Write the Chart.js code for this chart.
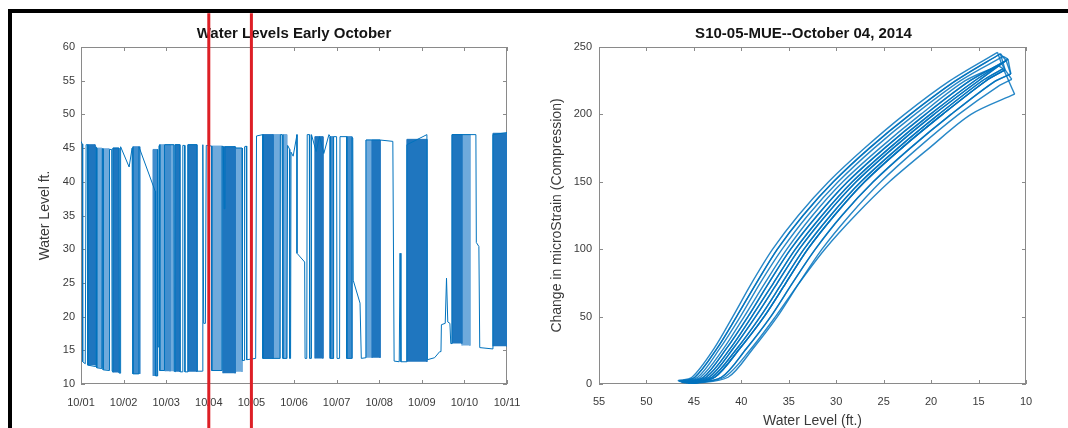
<!DOCTYPE html>
<html>
<head>
<meta charset="utf-8">
<title>Water Levels Early October</title>
<script src="https://cdn.jsdelivr.net/npm/chart.js@4.4.1/dist/chart.umd.min.js"></script>
<style>
  html, body { margin: 0; padding: 0; background: #fff; overflow: hidden; }
  #page { position: relative; width: 1068px; height: 428px; overflow: hidden; }
  canvas { position: absolute; top: 0; }
  #levelChart { left: 0; }
  #strainChart { left: 540px; }
  .frame { position: absolute; background: #000; }
</style>
</head>
<body>
<div id="page">
  <canvas id="levelChart" width="540" height="440"></canvas>
  <canvas id="strainChart" width="528" height="440"></canvas>
  <div class="frame" style="left:8px;top:9px;width:1060px;height:4px"></div>
  <div class="frame" style="left:8px;top:9px;width:4px;height:419px"></div>
</div>
<script>
// ---- water level record, x = days after 10/01 00:00 ----
const dayLabels = ['10/01', '10/02', '10/03', '10/04', '10/05', '10/06',
                   '10/07', '10/08', '10/09', '10/10', '10/11'];

// single trace: [day, level ft]
const levelTrace = [
  [0.00, 46.0], [0.03, 45.6], [0.04, 13.3], [0.10, 13.0], [0.12, 45.5], [0.16, 45.5],
  [0.16, 12.8], [0.33, 12.6], [0.35, 45.2], [0.37, 45.0], [0.37, 12.4], [0.49, 12.3],
  [0.50, 44.9], [0.52, 44.9], [0.52, 12.1], [0.66, 12.0], [0.67, 44.8], [0.72, 44.8],
  [0.73, 11.9], [0.75, 11.8], [0.75, 45.0], [0.89, 45.0], [0.90, 11.6], [0.92, 11.6],
  [0.93, 45.2], [1.13, 42.2], [1.20, 45.0], [1.22, 45.2], [1.22, 11.5], [1.36, 11.5],
  [1.36, 45.2], [1.69, 39.5], [1.74, 38.6], [1.75, 11.2], [1.79, 11.2], [1.80, 44.8],
  [1.81, 15.5], [1.83, 45.3], [1.85, 45.5], [1.85, 12.0], [1.95, 12.0], [1.96, 45.5],
  [2.18, 45.5], [2.19, 11.9], [2.21, 11.8], [2.21, 45.5], [2.32, 45.5], [2.33, 11.8],
  [2.38, 11.8], [2.39, 45.4], [2.43, 45.4], [2.44, 11.8], [2.51, 11.8], [2.51, 45.5],
  [2.72, 45.5], [2.73, 11.9], [2.85, 11.9], [2.86, 45.5], [2.88, 19.0], [2.92, 19.0],
  [2.94, 45.4], [3.07, 45.3], [3.07, 12.0], [3.31, 12.0], [3.31, 45.3], [3.34, 45.2],
  [3.36, 36.0], [3.38, 45.2], [3.62, 45.2], [3.64, 45.0], [3.78, 45.0], [3.79, 13.5],
  [3.83, 13.5], [3.84, 45.2], [3.88, 45.3], [3.89, 13.6], [4.10, 13.8], [4.12, 46.8],
  [4.27, 47.0], [4.27, 13.8], [4.67, 13.8], [4.68, 47.0], [4.72, 47.0], [4.74, 13.8],
  [4.83, 13.8], [4.85, 45.4], [4.90, 44.8], [4.90, 13.8], [4.92, 13.8], [4.93, 44.4],
  [4.98, 43.8], [5.07, 47.0], [5.07, 29.4], [5.25, 28.1], [5.26, 13.8], [5.30, 13.8],
  [5.31, 47.0], [5.36, 47.0], [5.37, 13.8], [5.40, 13.8], [5.41, 47.0], [5.52, 44.5],
  [5.60, 46.7], [5.70, 44.2], [5.82, 47.0], [5.85, 46.7], [5.85, 13.8], [5.92, 13.8],
  [5.93, 46.7], [6.00, 46.7], [6.01, 13.8], [6.07, 13.8], [6.08, 46.7], [6.24, 46.7],
  [6.24, 13.8], [6.36, 13.8], [6.36, 46.6], [6.38, 46.5], [6.39, 25.4], [6.55, 22.0],
  [6.58, 13.8], [6.69, 13.9], [6.69, 46.2], [7.02, 46.2], [7.32, 46.0], [7.35, 13.4],
  [7.47, 13.3], [7.49, 29.4], [7.51, 13.3], [7.65, 13.3], [7.65, 45.5], [8.12, 47.0],
  [8.13, 13.6], [8.30, 13.9], [8.42, 14.8], [8.45, 14.8], [8.46, 18.8], [8.55, 19.0],
  [8.58, 25.7], [8.61, 19.2], [8.66, 19.0], [8.68, 16.0], [8.71, 16.0], [8.71, 47.0],
  [9.27, 47.0], [9.28, 31.0], [9.34, 30.4], [9.36, 15.4], [9.67, 15.2], [9.67, 47.0],
  [10.0, 47.3]
];

// pump cycling bursts: [start day, end day, top ft, bottom ft]
const denseBursts = [
  [0.16, 0.33, 45.5, 12.8], [0.75, 0.89, 45.0, 11.7], [2.21, 2.32, 45.5, 11.8],
  [2.51, 2.72, 45.5, 11.8], [3.33, 3.62, 45.2, 11.6], [4.27, 4.51, 47.0, 13.8],
  [5.49, 5.68, 46.7, 13.8], [6.83, 7.02, 46.2, 13.9], [7.65, 8.12, 46.3, 13.3],
  [8.71, 8.94, 47.0, 16.0], [9.67, 10.0, 47.2, 15.6]
];
const mediumBursts = [
  [1.22, 1.38, 45.2, 11.5], [1.69, 1.79, 44.8, 11.2], [1.97, 2.09, 45.5, 11.9],
  [5.85, 5.92, 46.7, 13.8], [6.24, 6.36, 46.7, 13.8]
];
const sparseBursts = [
  [0.37, 0.49, 45.0, 12.4], [0.52, 0.66, 44.9, 12.1], [1.85, 1.95, 45.5, 12.0],
  [2.10, 2.18, 45.5, 11.9], [3.07, 3.31, 45.3, 12.0], [3.64, 3.78, 45.0, 11.8],
  [4.51, 4.67, 47.0, 13.8], [4.74, 4.83, 47.0, 13.8], [6.69, 6.83, 46.2, 13.9],
  [8.94, 9.13, 47.0, 15.7]
];

// red markers bracketing 10/04
const markerDays = [3, 4];
const markerSpan = [65, 1];

// ---- strain vs water level, S10-05-MUE 10/04/2014: [level ft, microstrain] ----
const curveA  = [[46.7, 2.5], [45.2, 5], [42.9, 26], [40.9, 50], [38.9, 75], [36.7, 100], [34.0, 125], [30.8, 150], [27.0, 175], [22.8, 200], [18.0, 225], [13.0, 246]];
const curveA2 = [[46.6, 2.0], [44.9, 5], [42.6, 26], [40.5, 50], [38.4, 75], [36.2, 100], [33.5, 125], [30.3, 150], [26.5, 175], [22.2, 200], [17.4, 225], [12.7, 245]];
const curveB  = [[46.5, 1.8], [44.6, 5], [42.3, 26], [40.1, 50], [38.0, 75], [35.7, 100], [33.0, 125], [29.8, 150], [26.0, 175], [21.7, 200], [16.9, 225], [12.4, 243]];
const curveB2 = [[46.4, 1.5], [44.3, 5], [41.9, 26], [39.7, 50], [37.5, 75], [35.2, 100], [32.5, 125], [29.3, 150], [25.4, 175], [21.1, 200], [16.4, 225], [12.9, 236]];
const curveC  = [[46.3, 1.2], [44.0, 5], [41.6, 26], [39.3, 50], [37.1, 75], [34.8, 100], [32.0, 125], [28.8, 150], [24.9, 175], [20.6, 200], [15.9, 225], [12.6, 238]];
const curveC2 = [[46.2, 1.0], [43.7, 5], [41.2, 26], [38.9, 50], [36.6, 75], [34.3, 100], [31.5, 125], [28.3, 150], [24.4, 175], [20.1, 200], [15.4, 225], [12.1, 240]];
const curveD  = [[46.0, 0.8], [43.4, 5], [40.9, 26], [38.5, 50], [36.2, 75], [33.9, 100], [31.1, 125], [27.9, 150], [24.0, 175], [19.7, 200], [15.0, 225], [11.9, 241]];
const curveD2 = [[45.8, 0.6], [43.1, 5], [40.5, 26], [38.0, 50], [35.7, 75], [33.4, 100], [30.6, 125], [27.4, 150], [23.5, 175], [19.2, 200], [14.6, 225], [12.4, 234]];
const curveE  = [[45.6, 0.5], [42.8, 5], [40.2, 26], [37.6, 50], [35.3, 75], [33.0, 100], [30.2, 125], [27.0, 150], [23.1, 175], [18.8, 200], [14.2, 225], [12.2, 233]];
const curveF  = [[45.3, 0.4], [42.1, 5], [39.5, 26], [36.9, 50], [34.6, 75], [32.2, 100], [29.4, 125], [26.1, 150], [22.2, 175], [17.9, 200], [13.4, 224], [11.6, 230]];
const curveG  = [[45.0, 0.3], [41.4, 5], [38.8, 26], [36.2, 50], [33.9, 75], [31.5, 100], [28.6, 125], [25.3, 150], [21.4, 175], [17.1, 200], [12.9, 221], [11.5, 226]];
const curveH  = [[45.2, 0.4], [41.8, 5], [39.0, 26], [36.4, 50], [33.9, 75], [31.2, 100], [28.0, 125], [24.4, 150], [20.2, 175], [15.8, 200], [11.2, 215]];

// each drawdown/refill cycle: [falling-water path, rising-water path]
const cycles = [
  [curveA, curveC], [curveA2, curveC2], [curveB, curveD], [curveB2, curveD2],
  [curveC, curveE], [curveD, curveF], [curveE, curveG], [curveD2, curveH],
  [curveA2, curveE], [curveC2, curveF]
];

Chart.defaults.font.family = '"Liberation Sans", Arial, sans-serif';
Chart.defaults.color = '#3a3a3a';

const LINE_BLUE = '#0072BD';
const AXIS_GREY = '#8a8a8a';

// MATLAB-ish box: grey frame, inward ticks on all sides, bold title above
const matlabAxes = {
  id: 'matlabAxes',
  beforeDatasetsDraw(chart, args, opts) {
    const { ctx, chartArea: a, scales: { x, y } } = chart;
    ctx.save();
    ctx.strokeStyle = AXIS_GREY;
    ctx.lineWidth = 1;
    ctx.strokeRect(a.left + 0.5, a.top + 0.5, a.right - a.left - 1, a.bottom - a.top - 1);
    ctx.beginPath();
    x.ticks.forEach(t => {
      const px = Math.round(x.getPixelForValue(t.value)) + 0.5;
      ctx.moveTo(px, a.bottom); ctx.lineTo(px, a.bottom - 4);
      ctx.moveTo(px, a.top); ctx.lineTo(px, a.top + 4);
    });
    y.ticks.forEach(t => {
      const py = Math.round(y.getPixelForValue(t.value)) + 0.5;
      ctx.moveTo(a.left, py); ctx.lineTo(a.left + 4, py);
      ctx.moveTo(a.right, py); ctx.lineTo(a.right - 4, py);
    });
    ctx.stroke();
    ctx.font = 'bold 15px "Liberation Sans", Arial, sans-serif';
    ctx.fillStyle = '#141414';
    ctx.textAlign = 'center';
    ctx.textBaseline = 'middle';
    ctx.fillText(opts.title, (a.left + a.right) / 2 + (opts.shift || 0), a.top - 13);
    ctx.restore();
  }
};

const tickFont = { size: 11 };
const titleFont = { size: 14 };
const noGrid = { display: false, drawTicks: false };

function toPoints(pairs) {
  return pairs.map(p => ({ x: p[0], y: p[1] }));
}

function burstDatasets(list, color) {
  return list.map(b => ({
    data: [{ x: b[0], y: b[3] }, { x: b[0], y: b[2] }, { x: b[1], y: b[2] }, { x: b[1], y: b[3] }],
    borderColor: color,
    backgroundColor: color,
    borderWidth: 1,
    fill: 'shape',
    pointRadius: 0,
    order: 2
  }));
}

// === left: water level time series ===
const levelDatasets = [
  ...markerDays.map(d => ({
    data: markerSpan.map(v => ({ x: d, y: v })),
    borderColor: '#dd1f26',
    borderWidth: 3,
    pointRadius: 0,
    clip: false,
    order: 0
  })),
  {
    data: toPoints(levelTrace),
    borderColor: LINE_BLUE,
    borderWidth: 1,
    pointRadius: 0,
    order: 1
  },
  ...burstDatasets(denseBursts, '#1f76bf'),
  ...burstDatasets(mediumBursts, '#408dcd'),
  ...burstDatasets(sparseBursts, '#6faadc')
];

new Chart(document.getElementById('levelChart'), {
  type: 'line',
  data: { datasets: levelDatasets },
  options: {
    responsive: false,
    animation: false,
    devicePixelRatio: 1,
    layout: { padding: { left: 33, right: 33, top: 47, bottom: 6 } },
    plugins: {
      legend: { display: false },
      tooltip: { enabled: false },
      matlabAxes: { title: 'Water Levels Early October' }
    },
    scales: {
      x: {
        type: 'linear', min: 0, max: 10,
        grid: noGrid, border: { display: false },
        ticks: { stepSize: 1, padding: 12, font: tickFont, maxRotation: 0,
                 callback: v => dayLabels[v] },
        afterFit: s => { s.height = 50; }
      },
      y: {
        min: 10, max: 60,
        grid: noGrid, border: { display: false },
        ticks: { stepSize: 5, padding: 6, font: tickFont },
        title: { display: true, text: 'Water Level ft.', font: titleFont },
        afterFit: s => { s.width = 48; }
      }
    }
  },
  plugins: [matlabAxes]
});

// === right: strain against water level ===
const strainLine = { borderColor: 'rgba(0, 114, 189, 0.85)', borderWidth: 1.4, pointRadius: 0 };
const strainDatasets = [];
cycles.forEach(([down, up]) => {
  strainDatasets.push({ ...strainLine, data: toPoints(down), tension: 0.3 });
  strainDatasets.push({ ...strainLine, data: toPoints(up), tension: 0.3 });
  // turnaround at low water
  strainDatasets.push({ ...strainLine, data: toPoints([down[down.length - 1], up[up.length - 1]]) });
});

new Chart(document.getElementById('strainChart'), {
  type: 'line',
  data: { datasets: strainDatasets },
  options: {
    responsive: false,
    animation: false,
    devicePixelRatio: 1,
    layout: { padding: { left: 5, right: 42, top: 47, bottom: 6 } },
    plugins: {
      legend: { display: false },
      tooltip: { enabled: false },
      matlabAxes: { title: 'S10-05-MUE--October 04, 2014', shift: -9 }
    },
    scales: {
      x: {
        type: 'linear', min: 10, max: 55, reverse: true,
        grid: noGrid, border: { display: false },
        ticks: { stepSize: 5, padding: 11, font: tickFont, maxRotation: 0 },
        title: { display: true, text: 'Water Level (ft.)', font: titleFont, padding: { top: 0, bottom: 4 } },
        afterFit: s => { s.height = 50; }
      },
      y: {
        min: 0, max: 250,
        grid: noGrid, border: { display: false },
        ticks: { stepSize: 50, padding: 7, font: tickFont },
        title: { display: true, text: 'Change in microStrain (Compression)', font: titleFont },
        afterFit: s => { s.width = 54; }
      }
    }
  },
  plugins: [matlabAxes]
});
</script>
</body>
</html>
